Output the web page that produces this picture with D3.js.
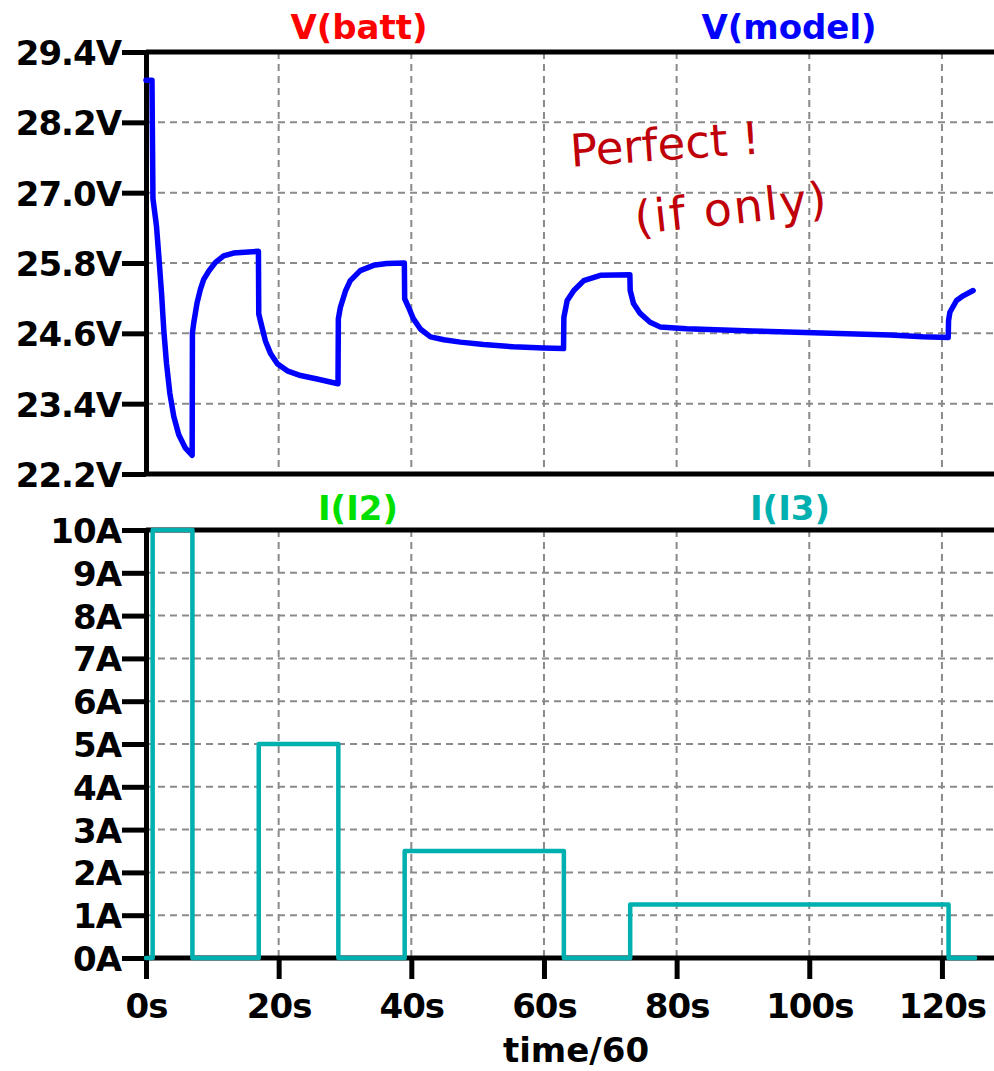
<!DOCTYPE html>
<html>
<head>
<meta charset="utf-8">
<script src="https://cdn.jsdelivr.net/npm/d3@7"></script>
<style>
  html, body { margin: 0; padding: 0; background: #ffffff; }
  svg { display: block; }
</style>
</head>
<body>
<svg id="chart" width="994" height="1071"></svg>
<script>
// Battery pulse-discharge test: terminal voltage vs. model, and load current.
// Time axis is simulation time divided by 60.

const tVolt = [0, 0.9, 1.05, 1.58, 1.93, 2.34, 2.68, 3.09, 3.59, 4.19, 4.94, 5.95, 6.96,
  7.0, 7.2, 7.7, 8.2, 8.7, 9.46, 10.47, 11.7, 13.2, 16.95,
  17.0, 17.5, 18.0, 18.8, 19.8, 21.3, 23.3, 25.8, 28.95,
  29.0, 29.3, 30.1, 30.8, 32.3, 34.3, 36.3, 38.95,
  39.0, 39.6, 40.3, 41.4, 42.9, 44.9, 47.4, 50.9, 55.4, 59.9, 62.95,
  63.0, 63.5, 64.5, 66.0, 68.5, 72.95,
  73.0, 73.5, 74.5, 76.0, 77.5, 81.5, 91.5, 100.6, 112.2, 117.1, 120.95,
  121.0, 121.2, 122.2, 123.2, 124.7];

const vModel = [28.92, 28.92, 26.90, 26.43, 25.92, 25.29, 24.66, 24.09, 23.58, 23.18, 22.87, 22.64, 22.52,
  24.61, 24.78, 25.12, 25.35, 25.52, 25.66, 25.81, 25.92, 25.97, 26.00,
  24.93, 24.70, 24.47, 24.25, 24.08, 23.96, 23.88, 23.82, 23.74,
  24.85, 25.04, 25.33, 25.50, 25.67, 25.76, 25.79, 25.80,
  25.19, 25.04, 24.85, 24.67, 24.54, 24.49, 24.45, 24.41, 24.37, 24.35, 24.34,
  24.87, 25.16, 25.33, 25.50, 25.59, 25.60,
  25.33, 25.11, 24.94, 24.79, 24.71, 24.68, 24.64, 24.61, 24.57, 24.54, 24.53,
  24.82, 24.96, 25.16, 25.24, 25.33];

// measured battery voltage lies exactly on the model trace
const vBatt = vModel.slice();

const tCurr = [0, 1, 1, 7, 7, 17, 17, 29, 29, 39, 39, 63, 63, 73, 73, 121, 121, 125];
const iI2 = [0, 0, 10, 10, 0, 0, 5, 5, 0, 0, 2.5, 2.5, 0, 0, 1.25, 1.25, 0, 0];
const iI3 = [0, 0, 10, 10, 0, 0, 5, 5, 0, 0, 2.5, 2.5, 0, 0, 1.25, 1.25, 0, 0];

const voltTicks = [22.2, 23.4, 24.6, 25.8, 27.0, 28.2, 29.4];
const currTicks = [0, 1, 2, 3, 4, 5, 6, 7, 8, 9, 10];
const timeTicks = [0, 20, 40, 60, 80, 100, 120];

const W = 994;
const FONT = "'DejaVu Sans', Verdana, sans-serif";
const AXIS_W = 5;
const GRID = "#8a8a8a";

const svg = d3.select("#chart");

const x = d3.scaleLinear().domain([0, 127.85]).range([146, W]);
const yV = d3.scaleLinear().domain([22.2, 29.4]).range([474, 52]);
const yI = d3.scaleLinear().domain([0, 10]).range([958, 530]);

// ---------- grids ----------
function grid(yScale, yTicks) {
  const g = svg.append("g")
    .attr("stroke", GRID).attr("stroke-width", 2).attr("stroke-dasharray", "7,5").attr("fill", "none");
  const [yb, yt] = yScale.range();
  g.selectAll("line.v").data(timeTicks.filter(t => t > 0)).join("line")
    .attr("x1", d => x(d)).attr("x2", d => x(d)).attr("y1", yt).attr("y2", yb);
  const inner = yTicks.filter(v => v !== yScale.domain()[0] && v !== yScale.domain()[1]);
  g.selectAll("line.h").data(inner).join("line")
    .attr("x1", x(0)).attr("x2", W).attr("y1", d => yScale(d)).attr("y2", d => yScale(d));
}
grid(yV, voltTicks);
grid(yI, currTicks);

// ---------- frames and axes ----------
function hline(y) {
  svg.append("line").attr("x1", x(0)).attr("x2", W).attr("y1", y).attr("y2", y)
    .attr("stroke", "#000").attr("stroke-width", AXIS_W);
}
hline(yV(29.4));
hline(yV(22.2));
hline(yI(10));

function styleAxis(g) {
  g.attr("font-family", FONT).attr("font-size", 34).attr("font-weight", "bold");
  g.selectAll(".domain").attr("stroke", "#000").attr("stroke-width", AXIS_W);
  g.selectAll(".tick line").attr("stroke", "#000").attr("stroke-width", AXIS_W);
  g.selectAll(".tick text").attr("fill", "#000").attr("letter-spacing", -1);
}

const axV = svg.append("g").attr("transform", `translate(${x(0)},0)`)
  .call(d3.axisLeft(yV).tickValues(voltTicks).tickSize(24).tickSizeOuter(0).tickPadding(1)
    .tickFormat(v => v.toFixed(1) + "V"));
styleAxis(axV);
axV.selectAll(".tick text").attr("dy", "0.37em");

const axI = svg.append("g").attr("transform", `translate(${x(0)},0)`)
  .call(d3.axisLeft(yI).tickValues(currTicks).tickSize(24).tickSizeOuter(0).tickPadding(1)
    .tickFormat(v => v + "A"));
styleAxis(axI);
axI.selectAll(".tick text").attr("dy", "0.37em");

const axT = svg.append("g").attr("transform", `translate(0,${yI(0)})`)
  .call(d3.axisBottom(x).tickValues(timeTicks).tickSize(21).tickSizeOuter(0)
    .tickFormat(v => v + "s"));
styleAxis(axT);
axT.select(".domain").attr("d", `M${x(0)},0H${W}`);
axT.selectAll(".tick text").attr("y", 60).attr("dy", 0);

svg.append("text").attr("x", 576).attr("y", 1062).attr("text-anchor", "middle")
  .attr("font-family", FONT).attr("font-size", 34).attr("font-weight", "bold")
  .attr("fill", "#000").text("time/60");

// ---------- trace titles ----------
function title(label, cx, baseline, color) {
  svg.append("text").attr("x", cx).attr("y", baseline).attr("text-anchor", "middle")
    .attr("font-family", FONT).attr("font-size", 34).attr("font-weight", "bold")
    .attr("fill", color).text(label);
}
title("V(batt)", 359, 39, "#ff0000");
title("V(model)", 789, 39, "#0000ff");
title("I(I2)", 358, 520, "#00e000");
title("I(I3)", 790, 520, "#00b0b0");

// ---------- traces ----------
const vLine = d3.line().x(d => x(d[0])).y(d => yV(d[1]));
const iLine = d3.line().x(d => x(d[0])).y(d => yI(d[1]));

function trace(gen, xs, ys, color, width) {
  svg.append("path").datum(xs.map((t, i) => [t, ys[i]]))
    .attr("d", gen).attr("fill", "none").attr("stroke", color)
    .attr("stroke-width", width).attr("stroke-linejoin", "round").attr("stroke-linecap", "round");
}
// the reference traces sit underneath and are fully covered by the overlaid ones
trace(vLine, tVolt, vBatt, "#ff0000", 3);
trace(vLine, tVolt, vModel, "#0000ff", 5.5);
trace(iLine, tCurr, iI2, "#00e000", 3);
trace(iLine, tCurr, iI3, "#00b0b0", 4.5);

// ---------- scribbled note ----------
const note = svg.append("g").attr("fill", "#c00008").attr("font-family", FONT);
note.append("text").attr("x", 666).attr("y", 160).attr("text-anchor", "middle")
  .attr("font-size", 45).attr("transform", "rotate(-4,666,160)").text("Perfect !");
note.append("text").attr("x", 733).attr("y", 224).attr("text-anchor", "middle")
  .attr("font-size", 46).attr("letter-spacing", 2)
  .attr("transform", "rotate(-6,733,224)").text("(if only)");
</script>
</body>
</html>
